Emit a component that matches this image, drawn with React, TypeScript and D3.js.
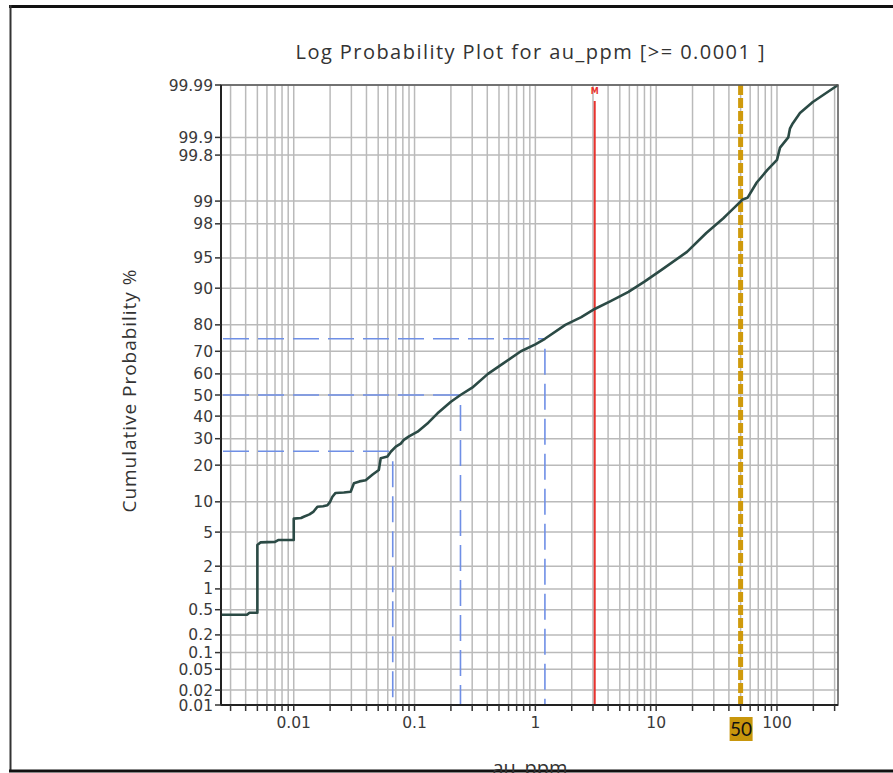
import { useEffect, useRef } from "react";
import * as d3 from "d3";

// cumulative curve (au_ppm, cumulative %)
const curveValues = [
  0.0025, 0.0041, 0.0043, 0.005, 0.005, 0.0053, 0.007, 0.0075, 0.01, 0.01,
  0.0115, 0.0121, 0.0135, 0.0146, 0.0157, 0.0175, 0.019, 0.02, 0.0209, 0.0222,
  0.026, 0.0296, 0.0315, 0.035, 0.0394, 0.045, 0.0506, 0.0525, 0.0597, 0.0636,
  0.07, 0.0769, 0.0815, 0.09, 0.106, 0.13, 0.155, 0.2, 0.24, 0.3, 0.405, 0.55,
  0.76, 1.0, 1.2, 1.77, 2.4, 3.1, 4.2, 5.9, 8.0, 11, 18, 26, 36, 39, 45, 52, 57,
  68, 83, 100, 106, 124, 128, 135, 155, 198, 320,
];
const curvePercents = [
  0.42, 0.42, 0.45, 0.45, 3.6, 3.85, 3.9, 4.1, 4.1, 6.9, 7.0, 7.2, 7.6, 8.1,
  9.0, 9.1, 9.3, 10.0, 11.1, 12.0, 12.1, 12.3, 14.5, 15.0, 15.3, 17.0, 18.4,
  22.4, 23.0, 24.8, 26.8, 28.0, 29.5, 31.0, 33.0, 37.0, 41.3, 46.8, 50.0, 53.5,
  60.0, 65.0, 70.0, 72.8, 75.0, 80.0, 82.5, 84.9, 87.0, 89.2, 91.3, 93.3, 95.7,
  97.4, 98.3, 98.5, 98.8, 99.05, 99.1, 99.46, 99.65, 99.76, 99.85, 99.9, 99.93,
  99.944, 99.964, 99.978, 99.99,
];

const yTickValues = [
  0.01, 0.02, 0.05, 0.1, 0.2, 0.5, 1, 2, 5, 10, 20, 30, 40, 50, 60, 70, 80, 90,
  95, 98, 99, 99.8, 99.9, 99.99,
];
const xTickLabels = [0.01, 0.1, 1, 10, 100];

const quartilePercents = [25, 50, 75];
const quartileValues = [0.066, 0.24, 1.2];

const redLineValue = 3.1;
const goldLineValue = 50;

// inverse normal cdf (Acklam), used for the probability axis
function probit(p: number) {
  const a = [-39.69683028665376, 220.9460984245205, -275.9285104469687, 138.357751867269, -30.66479806614716, 2.506628277459239];
  const b = [-54.47609879822406, 161.5858368580409, -155.6989798598866, 66.80131188771972, -13.28068155288572];
  const c = [-0.007784894002430293, -0.3223964580411365, -2.400758277161838, -2.549732539343734, 4.374664141464968, 2.938163982698783];
  const d = [0.007784695709041462, 0.3224671290700398, 2.445134137142996, 3.754408661907416];
  const pl = 0.02425;
  if (p < pl) {
    const q = Math.sqrt(-2 * Math.log(p));
    return (((((c[0] * q + c[1]) * q + c[2]) * q + c[3]) * q + c[4]) * q + c[5]) /
      ((((d[0] * q + d[1]) * q + d[2]) * q + d[3]) * q + 1);
  }
  if (p > 1 - pl) {
    const q = Math.sqrt(-2 * Math.log(1 - p));
    return -(((((c[0] * q + c[1]) * q + c[2]) * q + c[3]) * q + c[4]) * q + c[5]) /
      ((((d[0] * q + d[1]) * q + d[2]) * q + d[3]) * q + 1);
  }
  const q = p - 0.5;
  const r = q * q;
  return (((((a[0] * r + a[1]) * r + a[2]) * r + a[3]) * r + a[4]) * r + a[5]) * q /
    (((((b[0] * r + b[1]) * r + b[2]) * r + b[3]) * r + b[4]) * r + 1);
}

export default function App() {
  const svgRef = useRef(null);

  useEffect(() => {
    if (!svgRef.current) return;
    const width = 893;
    const height = 773;
    const left = 221;
    const right = 838;
    const top = 85;
    const bottom = 705;

    const svg = d3.select(svgRef.current);
    svg.selectAll("*").remove();
    svg.attr("width", width).attr("height", height);

    const x = d3.scaleLog().domain([0.0025, 320]).range([left, right]);
    const z = d3
      .scaleLinear()
      .domain([probit(0.0001), probit(0.9999)])
      .range([bottom, top]);
    const y = (pct: number) => z(probit(pct / 100));

    svg.append("rect").attr("width", width).attr("height", height).attr("fill", "white");

    // outer frame
    svg.append("line").attr("x1", 9).attr("x2", width).attr("y1", 6.5).attr("y2", 6.5)
      .attr("stroke", "#111").attr("stroke-width", 3);
    svg.append("line").attr("x1", 10.5).attr("x2", 10.5).attr("y1", 5).attr("y2", 772)
      .attr("stroke", "#333").attr("stroke-width", 2);
    svg.append("line").attr("x1", 9).attr("x2", width).attr("y1", 771).attr("y2", 771)
      .attr("stroke", "#111").attr("stroke-width", 3);

    // grid
    const grid = svg.append("g").attr("stroke", "#bababa").attr("stroke-width", 1.5);
    x.ticks().forEach((t) => {
      grid.append("line").attr("x1", x(t)).attr("x2", x(t)).attr("y1", top).attr("y2", bottom);
    });
    yTickValues.forEach((t) => {
      grid.append("line").attr("x1", left).attr("x2", right).attr("y1", y(t)).attr("y2", y(t));
    });

    // quartile guides
    const guides = svg.append("g").attr("stroke", "#6f8fe6").attr("stroke-width", 1.6)
      .attr("fill", "none").attr("stroke-dasharray", "26,9");
    quartilePercents.forEach((p, i) => {
      const qx = x(quartileValues[i]);
      guides.append("line").attr("x1", left + 2).attr("x2", qx).attr("y1", y(p)).attr("y2", y(p));
      guides.append("line").attr("x1", qx).attr("x2", qx).attr("y1", y(p) + 10).attr("y2", bottom);
    });

    // red marker line
    const rx = x(redLineValue);
    svg.append("line").attr("x1", rx).attr("x2", rx).attr("y1", 101).attr("y2", bottom)
      .attr("stroke", "#e8322d").attr("stroke-width", 2);
    svg.append("text").attr("x", rx).attr("y", 94).attr("text-anchor", "middle")
      .attr("fill", "#e8322d").attr("font-family", "DejaVu Sans").attr("font-size", 8)
      .attr("font-weight", "bold").text("M");

    // gold threshold line
    const gx = x(goldLineValue);
    svg.append("line").attr("x1", gx).attr("x2", gx).attr("y1", top).attr("y2", bottom)
      .attr("stroke", "#cf9a0c").attr("stroke-width", 5).attr("stroke-dasharray", "10,3");

    // curve
    const line = d3
      .line<number>()
      .x((v) => x(v))
      .y((_, i) => y(curvePercents[i]));
    svg.append("path").datum(curveValues).attr("d", line).attr("fill", "none")
      .attr("stroke", "#2b4a45").attr("stroke-width", 2.6).attr("stroke-linejoin", "round");

    // plot frame
    svg.append("rect").attr("x", left).attr("y", top).attr("width", right - left)
      .attr("height", bottom - top).attr("fill", "none").attr("stroke", "#555").attr("stroke-width", 1.5);
    svg.append("line").attr("x1", left).attr("x2", left).attr("y1", top).attr("y2", bottom)
      .attr("stroke", "#222").attr("stroke-width", 2);
    svg.append("line").attr("x1", left).attr("x2", right).attr("y1", bottom).attr("y2", bottom)
      .attr("stroke", "#222").attr("stroke-width", 2);

    // y ticks
    const yAxis = svg.append("g").attr("font-family", "DejaVu Sans").attr("font-size", 15.5).attr("fill", "#3a3a3a");
    yTickValues.forEach((t) => {
      yAxis.append("line").attr("x1", left - 6).attr("x2", left).attr("y1", y(t)).attr("y2", y(t))
        .attr("stroke", "#333").attr("stroke-width", 1.5);
      yAxis.append("text").attr("x", left - 8).attr("y", y(t)).attr("dy", "0.36em")
        .attr("text-anchor", "end").text(String(t));
    });

    // x ticks
    const xAxis = svg.append("g").attr("font-family", "DejaVu Sans").attr("font-size", 15.5).attr("fill", "#3a3a3a");
    x.ticks().forEach((t) => {
      xAxis.append("line").attr("x1", x(t)).attr("x2", x(t)).attr("y1", bottom).attr("y2", bottom + 6)
        .attr("stroke", "#333").attr("stroke-width", 1.5);
    });
    xTickLabels.forEach((t) => {
      xAxis.append("text").attr("x", x(t)).attr("y", bottom + 23).attr("text-anchor", "middle").text(String(t));
    });

    // gold label
    svg.append("rect").attr("x", gx - 11).attr("y", 717).attr("width", 23).attr("height", 24).attr("fill", "#c8960c");
    svg.append("text").attr("x", gx + 0.5).attr("y", 736).attr("text-anchor", "middle")
      .attr("font-family", "Lato").attr("font-size", 19).attr("fill", "#111").text(String(goldLineValue));

    // titles
    svg.append("text").attr("x", 530).attr("y", 59).attr("text-anchor", "middle")
      .attr("font-family", "Open Sans").attr("font-size", 20).attr("fill", "#333")
      .attr("textLength", 469).attr("lengthAdjust", "spacing")
      .text("Log Probability Plot for au_ppm [>= 0.0001 ]");
    svg.append("text").attr("transform", `translate(136,${y(50) - 4}) rotate(-90)`)
      .attr("text-anchor", "middle").attr("font-family", "Open Sans").attr("font-size", 19).attr("fill", "#333")
      .attr("textLength", 243).attr("lengthAdjust", "spacing")
      .text("Cumulative Probability %");
    svg.append("text").attr("x", 530).attr("y", 775).attr("text-anchor", "middle")
      .attr("font-family", "Open Sans").attr("font-size", 20).attr("fill", "#333").text("au_ppm");
  }, []);

  return <svg ref={svgRef} style={{ position: "absolute", left: 0, top: 0, display: "block" }} />;
}
